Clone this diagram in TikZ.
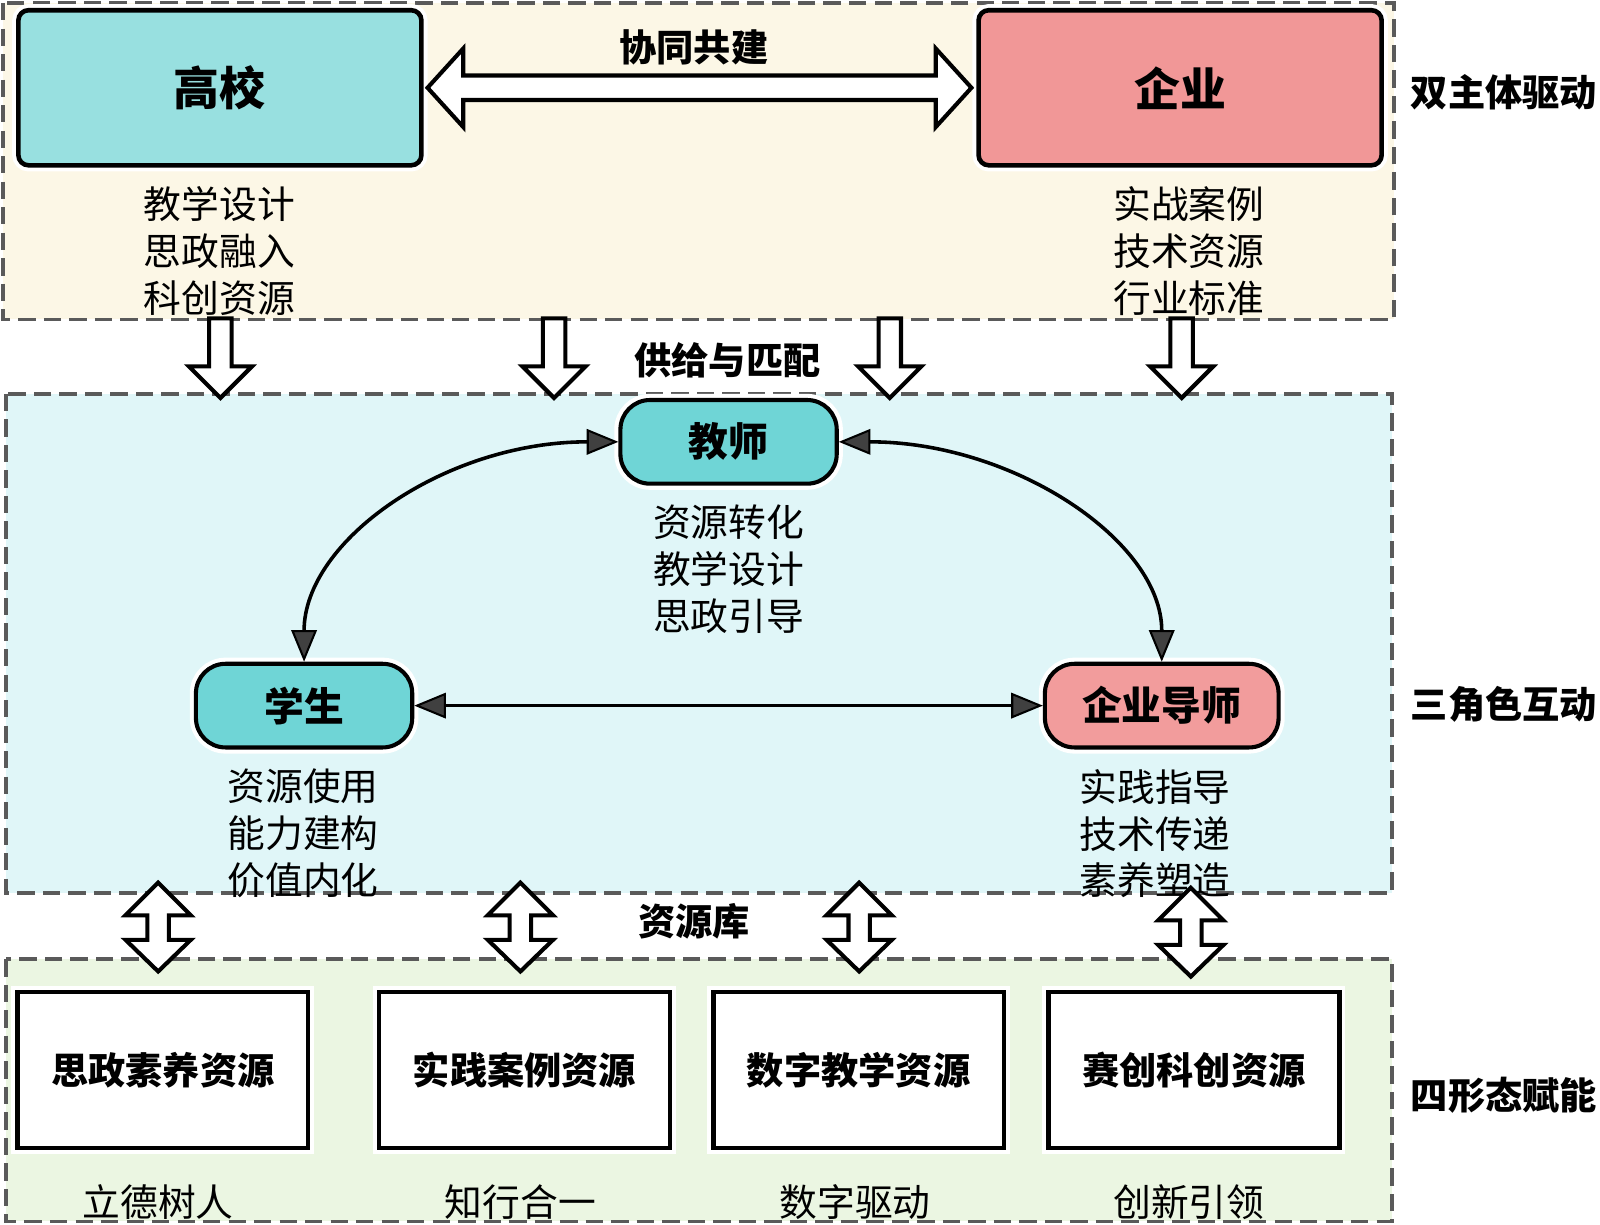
\documentclass[tikz,border=0pt]{standalone}
\usepackage{fontspec}
\setmainfont{Noto Sans CJK SC}
\usetikzlibrary{arrows.meta}
\definecolor{gxcol}{HTML}{98E0E0}
\definecolor{qycol}{HTML}{F19797}
\definecolor{jscol}{HTML}{6FD5D6}
\definecolor{qdcol}{HTML}{F29C9C}
\definecolor{panelA}{HTML}{FCF7E6}
\definecolor{panelB}{HTML}{E0F6F8}
\definecolor{panelC}{HTML}{EBF6E2}
\definecolor{panelline}{HTML}{5A5A5A}
\tikzset{
  panel/.style={draw=panelline, line width=3.5pt, dash pattern=on 17pt off 8pt},
  halo/.style={preaction={draw=white, line width=12pt}},
  bigbox/.style={halo, draw=black, line width=4.5pt, rounded corners=10pt,
    minimum width=395pt, minimum height=152pt, inner sep=0pt,
    font=\bfseries\fontsize{45pt}{50pt}\selectfont},
  role/.style={halo, draw=black, line width=4pt, rounded corners=29pt,
    minimum height=82pt, inner sep=0pt,
    font=\bfseries\fontsize{39pt}{44pt}\selectfont},
  resbox/.style={halo, draw=black, line width=4.5pt, fill=white,
    minimum width=285pt, minimum height=153pt, inner sep=0pt,
    font=\bfseries\fontsize{36.5pt}{40pt}\selectfont},
  desc/.style={font=\fontsize{37pt}{46pt}\selectfont, align=center, inner sep=0pt},
  hd/.style={font=\bfseries\fontsize{36.5pt}{40pt}\selectfont, inner sep=0pt},
  hollow/.style={draw=black, line width=4pt, fill=white, line join=miter},
  tipx/.tip={Triangle[length=31pt,width=25pt,fill=black!75,line width=2pt]},
  link/.style={draw=black, line width=3.5pt, tipx-tipx},
  hdown/.pic={\draw[hollow] (-11,0) -- (-11,47) -- (-31,47) -- (0,78) -- (31,47) -- (11,47) -- (11,0) -- cycle;},
  vdouble/.pic={\draw[hollow] (0,0) -- (32,32) -- (10.5,32) -- (10.5,56) -- (32,56) -- (0,87) -- (-32,56) -- (-10.5,56) -- (-10.5,32) -- (-32,32) -- cycle;},
}
\begin{document}
\begin{tikzpicture}[x=1pt,y=-1pt]
\useasboundingbox (0,0) rectangle (1568,1200);
\fill[white] (0,0) rectangle (1568,1200);

% panels
\draw[panel, fill=panelA] (3,3) rectangle (1366,313);
\draw[panel, fill=panelB] (6,386) rectangle (1364,875);
\draw[panel, fill=panelC] (6,940) rectangle (1364,1197);

% top level
\node[bigbox, fill=gxcol] (gx) at (215.5,86) {高校};
\node[bigbox, fill=qycol] (qy) at (1156.5,86) {企业};
\draw[hollow] (419,86) -- (454,47.5) -- (454,74) -- (917,74) -- (917,47.5) -- (952,86)
  -- (917,124.5) -- (917,98) -- (454,98) -- (454,124.5) -- cycle;
\node[hd] (xt) at (680,46) {协同共建};
\node[desc] (gxd) at (215,246) {教学设计\\思政融入\\科创资源};
\node[desc] (qyd) at (1165,246) {实战案例\\技术资源\\行业标准};
\node[hd] (l1) at (1474,90) {双主体驱动};

% supply arrows
\pic at (216,312) {hdown};
\pic at (543,312) {hdown};
\pic at (872,312) {hdown};
\pic at (1158,312) {hdown};
\node[hd] (gp) at (713,353) {供给与匹配};

% roles
\node[role, fill=jscol, minimum width=212pt] (js) at (714,433) {教师};
\node[role, fill=jscol, minimum width=212pt] (xs) at (298,691.5) {学生};
\node[role, fill=qdcol, minimum width=229pt] (qd) at (1138.5,691.5) {企业导师};
\node[desc] (jsd) at (714,558) {资源转化\\教学设计\\思政引导};
\node[desc] (xsd) at (297,817) {资源使用\\能力建构\\价值内化};
\node[desc] (qdd) at (1132,817) {实践指导\\技术传递\\素养塑造};
\node[hd] (l2) at (1474,690) {三角色互动};

\draw[link] (xs.north) .. controls (298,530) and (436,433) .. (js.west);
\draw[link] (js.east) .. controls (993,433) and (1138.5,530) .. (qd.north);
\draw[link] (xs.east) -- (qd.west);

% resource arrows
\pic at (155,865) {vdouble};
\pic at (510,865) {vdouble};
\pic at (842,865) {vdouble};
\pic at (1167,870) {vdouble};
\node[hd] (zyk) at (680,903) {资源库};

% resources
\node[resbox] (r1) at (159.5,1048.5) {思政素养资源};
\node[resbox] (r2) at (514,1048.5) {实践案例资源};
\node[resbox] (r3) at (841.5,1048.5) {数字教学资源};
\node[resbox] (r4) at (1170,1048.5) {赛创科创资源};
\node[desc] (r1d) at (155,1178) {立德树人};
\node[desc] (r2d) at (510,1178) {知行合一};
\node[desc] (r3d) at (838,1178) {数字驱动};
\node[desc] (r4d) at (1165,1178) {创新引领};
\node[hd] (l3) at (1474,1073) {四形态赋能};
\end{tikzpicture}
\end{document}
